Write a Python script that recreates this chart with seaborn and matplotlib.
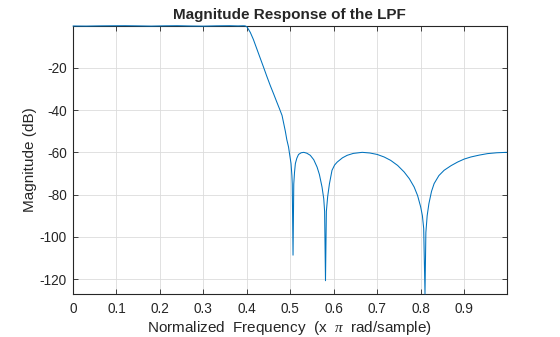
import matplotlib
matplotlib.use("Agg")
import matplotlib.pyplot as plt
import seaborn as sns
import pandas as pd

# Normalized frequency (x pi rad/sample) and magnitude (dB)
freq = [0.000, 0.030, 0.060, 0.090, 0.120, 0.150, 0.180, 0.210, 0.240, 0.270,
        0.300, 0.330, 0.360, 0.380, 0.392, 0.396, 0.400, 0.404, 0.408, 0.415,
        0.423, 0.431, 0.4385, 0.446, 0.454, 0.462, 0.469, 0.475, 0.481, 0.4886,
        0.492, 0.496, 0.4985, 0.5017, 0.5037, 0.5045, 0.5063, 0.5080, 0.5097, 0.5117,
        0.515, 0.519, 0.525, 0.531, 0.538, 0.546, 0.554, 0.5617, 0.567, 0.573,
        0.577, 0.579, 0.581, 0.583, 0.586, 0.590, 0.596, 0.602, 0.608, 0.620,
        0.631, 0.645, 0.6655, 0.683, 0.700, 0.716, 0.731, 0.747, 0.762, 0.774,
        0.785, 0.793, 0.800, 0.804, 0.807, 0.810, 0.812, 0.815, 0.819, 0.825,
        0.831, 0.842, 0.854, 0.870, 0.885, 0.900, 0.9155, 0.935, 0.954, 0.975,
        0.998]
mag_db = [-0.15, -0.20, -0.10, -0.05, -0.02, -0.10, -0.20, -0.08, -0.02, -0.15,
          -0.22, -0.08, -0.02, -0.12, -0.05, -0.10, -0.5, -1.8, -3.2, -6.5,
          -11.0, -15.5, -19.7, -24.0, -28.4, -32.5, -36.2, -39.3, -42.5, -50.0,
          -54.0, -57.5, -61.0, -65.3, -71.0, -75.0, -108.7, -75.0, -69.5, -65.3,
          -62.8, -61.0, -60.2, -60.0, -60.4, -61.4, -63.5, -67.0, -70.5, -76.4,
          -82.0, -88.0, -120.8, -88.0, -81.0, -75.0, -68.5, -66.0, -64.6, -62.6,
          -61.4, -60.5, -60.0, -60.3, -61.0, -62.2, -63.8, -66.2, -69.3, -72.5,
          -76.4, -80.5, -85.8, -90.0, -96.0, -127.1, -98.0, -90.0, -84.3, -78.5,
          -74.8, -71.0, -68.5, -66.3, -64.6, -63.2, -62.2, -61.3, -60.6, -60.2,
          -60.0]

x_ticks = [0, 0.1, 0.2, 0.3, 0.4, 0.5, 0.6, 0.7, 0.8, 0.9]
x_tick_labels = ["0", "0.1", "0.2", "0.3", "0.4", "0.5", "0.6", "0.7", "0.8", "0.9"]
y_ticks = [-120, -100, -80, -60, -40, -20]
y_tick_labels = ["-120", "-100", "-80", "-60", "-40", "-20"]

title = "Magnitude Response of the LPF"
x_label = "Normalized  Frequency  (x  $\\pi$  rad/sample)"
y_label = "Magnitude (dB)"

sns.set_theme(style="white")
plt.rcParams["font.family"] = ["Liberation Sans", "DejaVu Sans"]
plt.rcParams["mathtext.fontset"] = "custom"
plt.rcParams["mathtext.it"] = "Liberation Serif:italic"

df = pd.DataFrame({"freq": freq, "mag": mag_db})

fig = plt.figure(figsize=(5.6, 3.37), dpi=100)
ax = fig.add_axes([0.1304, 0.1276, 0.7744, 0.7962])

sns.lineplot(data=df, x="freq", y="mag", ax=ax, color="#0072BD",
             linewidth=0.75, estimator=None, sort=False)
for ln in ax.lines:
    ln.set_clip_on(False)
    ln.set_zorder(3)

ax.set_xlim(0, 0.998)
ax.set_ylim(-127.1, 0.0)
ax.set_xticks(x_ticks)
ax.set_xticklabels(x_tick_labels)
ax.set_yticks(y_ticks)
ax.set_yticklabels(y_tick_labels)

ax.grid(True, color="#dcdcdc", linewidth=0.6)
ax.set_axisbelow(True)
for s in ax.spines.values():
    s.set_visible(True)
    s.set_color("#262626")
    s.set_linewidth(0.8)

ax.tick_params(axis="both", which="both", direction="in", length=3.5, width=0.6,
               colors="#262626", labelsize=9.8, top=True, right=True,
               labeltop=False, labelright=False, bottom=True, left=True)
ax.tick_params(axis="x", pad=6)
ax.tick_params(axis="y", pad=4.5)

ax.set_title(title, fontsize=11, fontweight="bold", color="#262626", pad=5)
ax.set_xlabel(x_label, fontsize=11, color="#262626", labelpad=2)
ax.set_ylabel(y_label, fontsize=11, color="#262626", labelpad=2)

fig.savefig("out.png", dpi=100)
